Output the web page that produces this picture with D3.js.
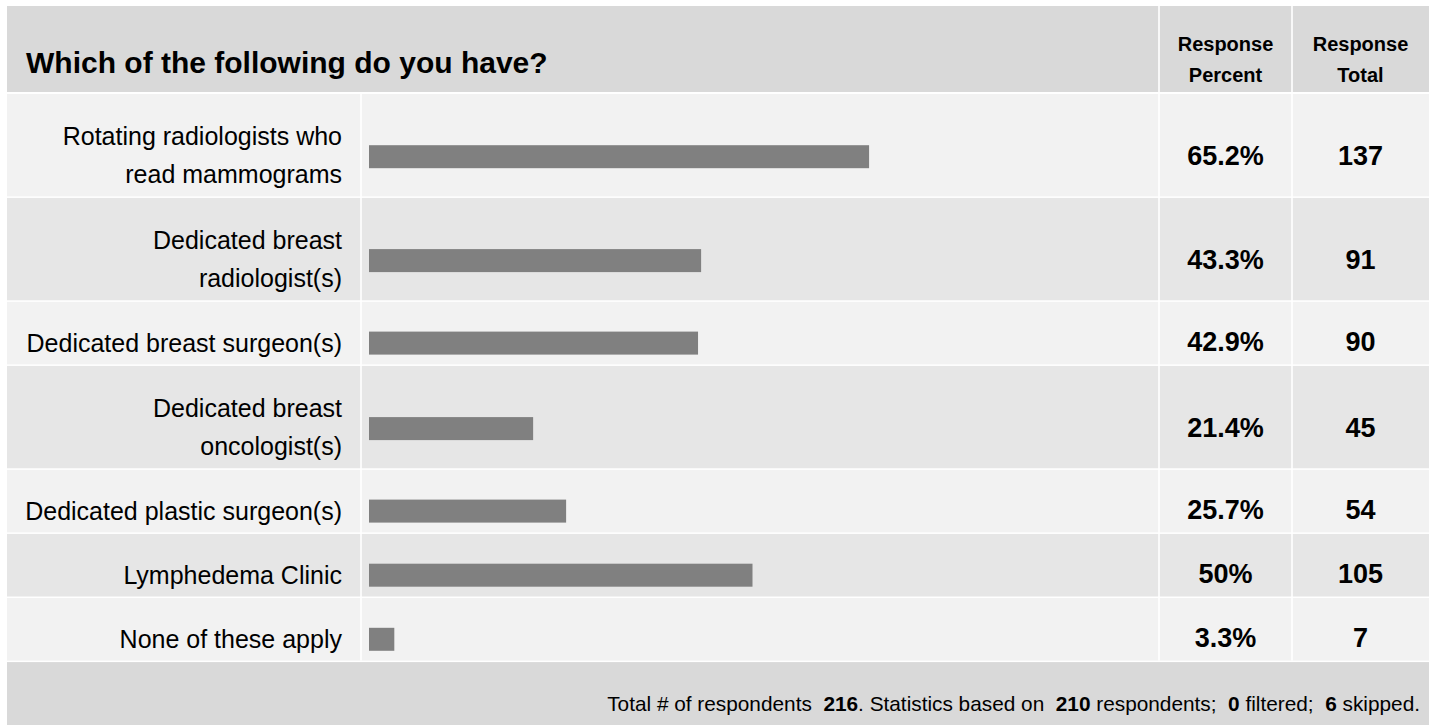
<!DOCTYPE html>
<html>
<head>
<meta charset="utf-8">
<script src="https://cdn.jsdelivr.net/npm/d3@7"></script>
<style>
  html, body { margin: 0; padding: 0; background: #ffffff; }
  svg { display: block; }
  text { font-family: "Liberation Sans", Arial, Helvetica, sans-serif; fill: #000; }
</style>
</head>
<body>
<svg id="chart" width="1429" height="725"></svg>
<script>
// ---- data ----
const title = "Which of the following do you have?";
const columnHeaders = [["Response", "Percent"], ["Response", "Total"]];
const categories = [
  "Rotating radiologists who\nread mammograms",
  "Dedicated breast\nradiologist(s)",
  "Dedicated breast surgeon(s)",
  "Dedicated breast\noncologist(s)",
  "Dedicated plastic surgeon(s)",
  "Lymphedema Clinic",
  "None of these apply"
];
const percents = [65.2, 43.3, 42.9, 21.4, 25.7, 50, 3.3];
const totals = [137, 91, 90, 45, 54, 105, 7];
const footerParts = ["Total # of respondents  ", ". Statistics based on  ", " respondents;  ", " filtered;  ", " skipped."];
const footerNumbers = [216, 210, 0, 6];

// ---- layout ----
const W = 1429, H = 725;
const leftX = 7, topY = 6;
const headerH = 86, gap = 1.5;
const oneLineH = 62.6, twoLineH = 102.4;
const colLabelEnd = 361, colBarEnd = 1159, colPctEnd = 1292;
const sepW = 1.6;
const cHeader = "#d9d9d9", cOdd = "#f2f2f2", cEven = "#e6e6e6", cBar = "#808080";

const svg = d3.select("#chart");

// row positions
const rows = categories.map((c, i) => ({
  label: c, lines: c.split("\n"), pct: percents[i], total: totals[i], i
}));
let yCur = topY + headerH + 2;
rows.forEach(r => {
  r.two = r.lines.length > 1;
  r.h = r.two ? twoLineH : oneLineH;
  r.y = yCur;
  r.mid = r.y + r.h / 2 + (r.two ? 11.5 : 10);
  yCur += r.h + gap;
});
const footerY = yCur;

const x = d3.scaleLinear().domain([0, 100]).range([369, 369 + 767]);

// header
svg.append("rect").attr("x", leftX).attr("y", topY).attr("width", W - leftX).attr("height", headerH).attr("fill", cHeader);
svg.append("text").attr("x", 26).attr("y", 73)
  .style("font-size", "30px").style("font-weight", "bold").text(title);

const colCenters = [(colBarEnd + colPctEnd) / 2, (colPctEnd + W) / 2];
columnHeaders.forEach((lines, k) => {
  const t = svg.append("text").attr("text-anchor", "middle")
    .style("font-size", "20px").style("font-weight", "bold");
  lines.forEach((ln, j) => {
    t.append("tspan").attr("x", colCenters[k]).attr("y", 51 + j * 31).text(ln);
  });
});

// rows
const g = svg.append("g");
const rowG = g.selectAll("g.row").data(rows).join("g").attr("class", "row");
rowG.append("rect")
  .attr("x", leftX).attr("y", d => d.y).attr("width", W - leftX).attr("height", d => d.h)
  .attr("fill", d => d.i % 2 === 0 ? cOdd : cEven);

rowG.append("rect")
  .attr("x", x(0)).attr("y", d => d.mid - 11.5)
  .attr("width", d => x(d.pct) - x(0)).attr("height", 23)
  .attr("fill", cBar);

rowG.each(function(d) {
  const t = d3.select(this).append("text").attr("text-anchor", "end").style("font-size", "25px");
  if (d.two) {
    d.lines.forEach((ln, j) => {
      t.append("tspan").attr("x", 342).attr("y", d.mid - 11.5 + j * 38).text(ln);
    });
  } else {
    t.append("tspan").attr("x", 342).attr("y", d.mid + 9).text(d.lines[0]);
  }
});

rowG.append("text").attr("text-anchor", "middle")
  .attr("x", colCenters[0]).attr("y", d => d.mid + 8)
  .style("font-size", "27px").style("font-weight", "bold")
  .text(d => d.pct + "%");
rowG.append("text").attr("text-anchor", "middle")
  .attr("x", colCenters[1]).attr("y", d => d.mid + 8)
  .style("font-size", "27px").style("font-weight", "bold")
  .text(d => d.total);

// vertical separators (header + body)
const bodyBottom = footerY - gap;
[colBarEnd, colPctEnd].forEach(xv => {
  svg.append("rect").attr("x", xv - sepW / 2).attr("y", topY).attr("width", sepW)
    .attr("height", bodyBottom - topY).attr("fill", "#fff");
});
svg.append("rect").attr("x", colLabelEnd - sepW / 2).attr("y", topY + headerH)
  .attr("width", sepW).attr("height", bodyBottom - topY - headerH).attr("fill", "#fff");

// footer
svg.append("rect").attr("x", leftX).attr("y", footerY).attr("width", W - leftX)
  .attr("height", H - footerY).attr("fill", cHeader);
const ft = svg.append("text").attr("x", 1420).attr("y", 711).attr("text-anchor", "end")
  .attr("xml:space", "preserve").style("white-space", "pre").style("font-size", "20.8px");
footerParts.forEach((p, i) => {
  ft.append("tspan").text(p);
  if (i < footerNumbers.length) ft.append("tspan").style("font-weight", "bold").text(footerNumbers[i]);
});
</script>
</body>
</html>
